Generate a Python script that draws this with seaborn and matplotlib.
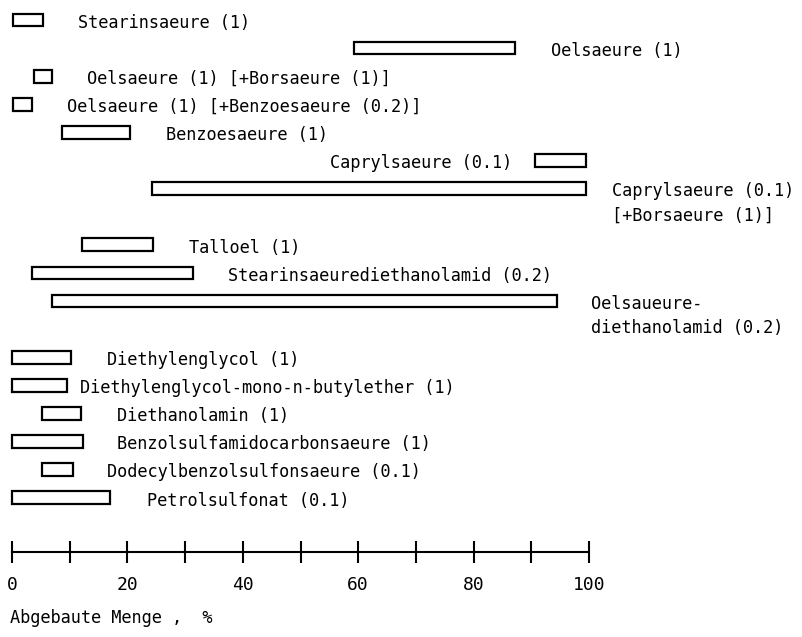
"""Floating range bars: degradation range (Abgebaute Menge, %) per substance."""
import matplotlib
matplotlib.use("Agg")
import matplotlib.pyplot as plt
import pandas as pd
import seaborn as sns

# substance (test concentration) and degradation range low/high in %
substances = [
    "Stearinsaeure (1)",
    "Oelsaeure (1)",
    "Oelsaeure (1) [+Borsaeure (1)]",
    "Oelsaeure (1) [+Benzoesaeure (0.2)]",
    "Benzoesaeure (1)",
    "Caprylsaeure (0.1)",
    "Caprylsaeure (0.1)\n[+Borsaeure (1)]",
    "Talloel (1)",
    "Stearinsaeurediethanolamid (0.2)",
    "Oelsaueure-\ndiethanolamid (0.2)",
    "Diethylenglycol (1)",
    "Diethylenglycol-mono-n-butylether (1)",
    "Diethanolamin (1)",
    "Benzolsulfamidocarbonsaeure (1)",
    "Dodecylbenzolsulfonsaeure (0.1)",
    "Petrolsulfonat (0.1)",
]
range_lo = [0.2, 59.3, 3.8, 0.2, 8.7, 90.6, 24.3, 12.1, 3.5, 6.9, 0.0, 0.0, 5.2, 0.0, 5.2, 0.0]
range_hi = [5.4, 87.2, 7.0, 3.5, 20.5, 99.5, 99.5, 24.4, 31.4, 94.5, 10.3, 9.6, 12.0, 12.3, 10.5, 17.0]

major_ticks = [0, 20, 40, 60, 80, 100]
minor_ticks = [10, 30, 50, 70, 90]
x_label = "Abgebaute Menge ,  %"

# layout: row slot for every bar (empty slots leave room for two-line labels)
rows = [0, 1, 2, 3, 4, 5, 6, 8, 9, 10, 12, 13, 14, 15, 16, 17]
# label side and gap to the bar (in % units)
label_side = ["r"] * 5 + ["l"] + ["r"] * 10
label_gap = [6, 6.2, 6, 6, 6.2, 3.9, 4.4, 6.3, 6, 5.8, 6.2, 2.2, 6.2, 5.9, 5.9, 6.4]

sns.set_theme(style="white")
plt.rcParams["font.family"] = ["DejaVu Sans Mono"]

df = pd.DataFrame({
    "row": rows,
    "lo": range_lo,
    "width": [h - l for l, h in zip(range_lo, range_hi)],
})

fig = plt.figure(figsize=(8.02, 6.37), dpi=100)
ax = fig.add_axes([0, 0, 1, 1])

sns.barplot(data=df, x="width", y="row", orient="y", native_scale=True,
            width=0.45, color="white", saturation=1, edgecolor="black",
            linewidth=1.6, errorbar=None, ax=ax)

# move every bar to its left end
lo_by_row = dict(zip(rows, range_lo))
for p in ax.patches:
    r = round(p.get_y() + p.get_height() / 2)
    p.set_x(lo_by_row[r])

# pixel mapping: x=0 -> 12 px, 5.77 px per %, row 0 -> 20 px, 28.1 px per row
ax.set_xlim(-12 / 5.77, (802 - 12) / 5.77)
ax.set_ylim((637 - 20) / 28.1, -20 / 28.1)

for name, r, lo, hi, side, gap in zip(substances, rows, range_lo, range_hi,
                                      label_side, label_gap):
    x = hi + gap if side == "r" else lo - gap
    ax.text(x, r - 0.22, name, ha="left" if side == "r" else "right",
            va="top", fontsize=12.2, color="black", linespacing=1.45)

# axis drawn as a free-standing ruler
axis_row = (552 - 20) / 28.1
for s in ["top", "left", "right"]:
    ax.spines[s].set_visible(False)
ax.spines["bottom"].set_position(("data", axis_row))
ax.spines["bottom"].set_bounds(0, 100)
ax.spines["bottom"].set_color("black")
ax.spines["bottom"].set_linewidth(1.5)
ax.set_xticks(major_ticks)
ax.set_xticks(minor_ticks, minor=True)
ax.set_xticklabels([str(t) for t in major_ticks])
ax.tick_params(axis="x", which="both", direction="inout", length=16,
               width=1.5, color="black", bottom=True)
ax.tick_params(axis="x", which="major", labelsize=13, pad=9, labelcolor="black")
ax.set_yticks([])
ax.set_xlabel("")
ax.set_ylabel("")

ax.text(-2 / 5.77, (618 - 20) / 28.1, x_label, ha="left", va="center",
        fontsize=12.2, color="black")

fig.savefig("out.png", dpi=100, facecolor="white")
